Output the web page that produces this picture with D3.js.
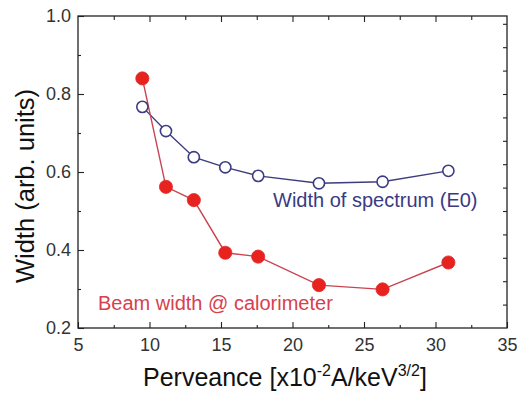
<!DOCTYPE html>
<html>
<head>
<meta charset="utf-8">
<script src="https://cdn.jsdelivr.net/npm/d3@7"></script>
<style>
  body { margin: 0; background: #fff; }
  svg { display: block; font-family: "Liberation Sans", Arial, sans-serif; }
</style>
</head>
<body>
<svg id="chart" width="519" height="396"></svg>
<script>
// perveance values (x10^-2 A/keV^3/2)
var perveance = [9.5, 11.15, 13.1, 15.3, 17.6, 21.85, 26.3, 30.9];
// beam width @ calorimeter (red, filled)
var beamWidth = [0.840, 0.562, 0.528, 0.393, 0.383, 0.310, 0.299, 0.368];
// width of spectrum E0 (blue, open)
var spectrumWidth = [0.767, 0.705, 0.638, 0.612, 0.590, 0.571, 0.575, 0.603];

var xTicks = [5, 10, 15, 20, 25, 30, 35];
var yTicks = [0.2, 0.4, 0.6, 0.8, 1.0];

var margin = {left: 78, right: 12, top: 16, bottom: 68};
var width = 519, height = 396;

var svg = d3.select("#chart");

var x = d3.scaleLinear().domain([5, 35]).range([margin.left, width - margin.right]);
var y = d3.scaleLinear().domain([0.2, 1.0]).range([height - margin.bottom, margin.top]);

var axisColor = "#222";

// minor ticks
var xMinor = d3.range(7.5, 35, 5);
var yMinor = d3.range(0.3, 1.0, 0.2);

function styleAxis(g) {
  g.select(".domain").remove();
  g.selectAll("line").attr("stroke", axisColor).attr("stroke-width", 1.1);
  g.selectAll("text").attr("fill", "#333").style("font-size", "18px");
}

// bottom
svg.append("g")
  .attr("transform", "translate(0," + y(0.2) + ")")
  .call(d3.axisBottom(x).tickValues(xTicks).tickSizeInner(-6).tickSizeOuter(0).tickPadding(10).tickFormat(d3.format("d")))
  .call(styleAxis);
svg.append("g")
  .attr("transform", "translate(0," + y(0.2) + ")")
  .call(d3.axisBottom(x).tickValues(xMinor).tickSize(-3).tickFormat(""))
  .call(styleAxis);

// top
svg.append("g")
  .attr("transform", "translate(0," + y(1.0) + ")")
  .call(d3.axisTop(x).tickValues(xTicks.slice(1, -1)).tickSize(-6).tickFormat(""))
  .call(styleAxis);
svg.append("g")
  .attr("transform", "translate(0," + y(1.0) + ")")
  .call(d3.axisTop(x).tickValues(xMinor).tickSize(-4).tickFormat(""))
  .call(styleAxis);

// left
svg.append("g")
  .attr("transform", "translate(" + x(5) + ",0)")
  .call(d3.axisLeft(y).tickValues(yTicks).tickSize(-6).tickPadding(7).tickFormat(d3.format(".1f")))
  .call(styleAxis);
svg.append("g")
  .attr("transform", "translate(" + x(5) + ",0)")
  .call(d3.axisLeft(y).tickValues(yMinor).tickSize(-3).tickFormat(""))
  .call(styleAxis);

// right
var rightTicks = d3.range(0.26, 1.0, 0.06);
svg.append("g")
  .attr("transform", "translate(" + x(35) + ",0)")
  .call(d3.axisRight(y).tickValues(rightTicks).tickSize(-4).tickFormat(""))
  .call(styleAxis);

// frame
svg.append("rect")
  .attr("x", x(5)).attr("y", y(1.0))
  .attr("width", x(35) - x(5)).attr("height", y(0.2) - y(1.0))
  .attr("fill", "none").attr("stroke", axisColor).attr("stroke-width", 1.3);

// series
var line = d3.line().x(function(d) { return x(d[0]); }).y(function(d) { return y(d[1]); });
var spec = d3.zip(perveance, spectrumWidth);
var beam = d3.zip(perveance, beamWidth);

svg.append("path").datum(spec).attr("d", line)
  .attr("fill", "none").attr("stroke", "#3c3c7e").attr("stroke-width", 1.4);
svg.append("path").datum(beam).attr("d", line)
  .attr("fill", "none").attr("stroke", "#c94452").attr("stroke-width", 1.4);

svg.append("g").selectAll("circle").data(spec).enter().append("circle")
  .attr("cx", function(d) { return x(d[0]); })
  .attr("cy", function(d) { return y(d[1]); })
  .attr("r", 5.6)
  .attr("fill", "#fff").attr("stroke", "#3c3c84").attr("stroke-width", 1.6);

svg.append("g").selectAll("circle").data(beam).enter().append("circle")
  .attr("cx", function(d) { return x(d[0]); })
  .attr("cy", function(d) { return y(d[1]); })
  .attr("r", 6.6)
  .attr("fill", "#e8221f").attr("stroke", "#e0302c").attr("stroke-width", 0.8);

// series labels
svg.append("text").attr("x", 273).attr("y", 207)
  .attr("fill", "#3a3a82").style("font-size", "20px")
  .text("Width of spectrum (E0)");
svg.append("text").attr("x", 98).attr("y", 310)
  .attr("fill", "#d8404e").style("font-size", "20px")
  .text("Beam width @ calorimeter");

// axis titles
var xt = svg.append("text").attr("x", 143).attr("y", 386)
  .attr("fill", "#111").style("font-size", "25px");
xt.append("tspan").text("Perveance [x10");
xt.append("tspan").attr("dy", -10).style("font-size", "16px").text("-2");
xt.append("tspan").attr("dy", 10).text("A/keV");
xt.append("tspan").attr("dy", -10).style("font-size", "16px").text("3/2");
xt.append("tspan").attr("dy", 10).text("]");

svg.append("text")
  .attr("transform", "translate(34,186) rotate(-90)")
  .attr("text-anchor", "middle")
  .attr("fill", "#111").style("font-size", "25.5px")
  .text("Width (arb. units)");
</script>
</body>
</html>
